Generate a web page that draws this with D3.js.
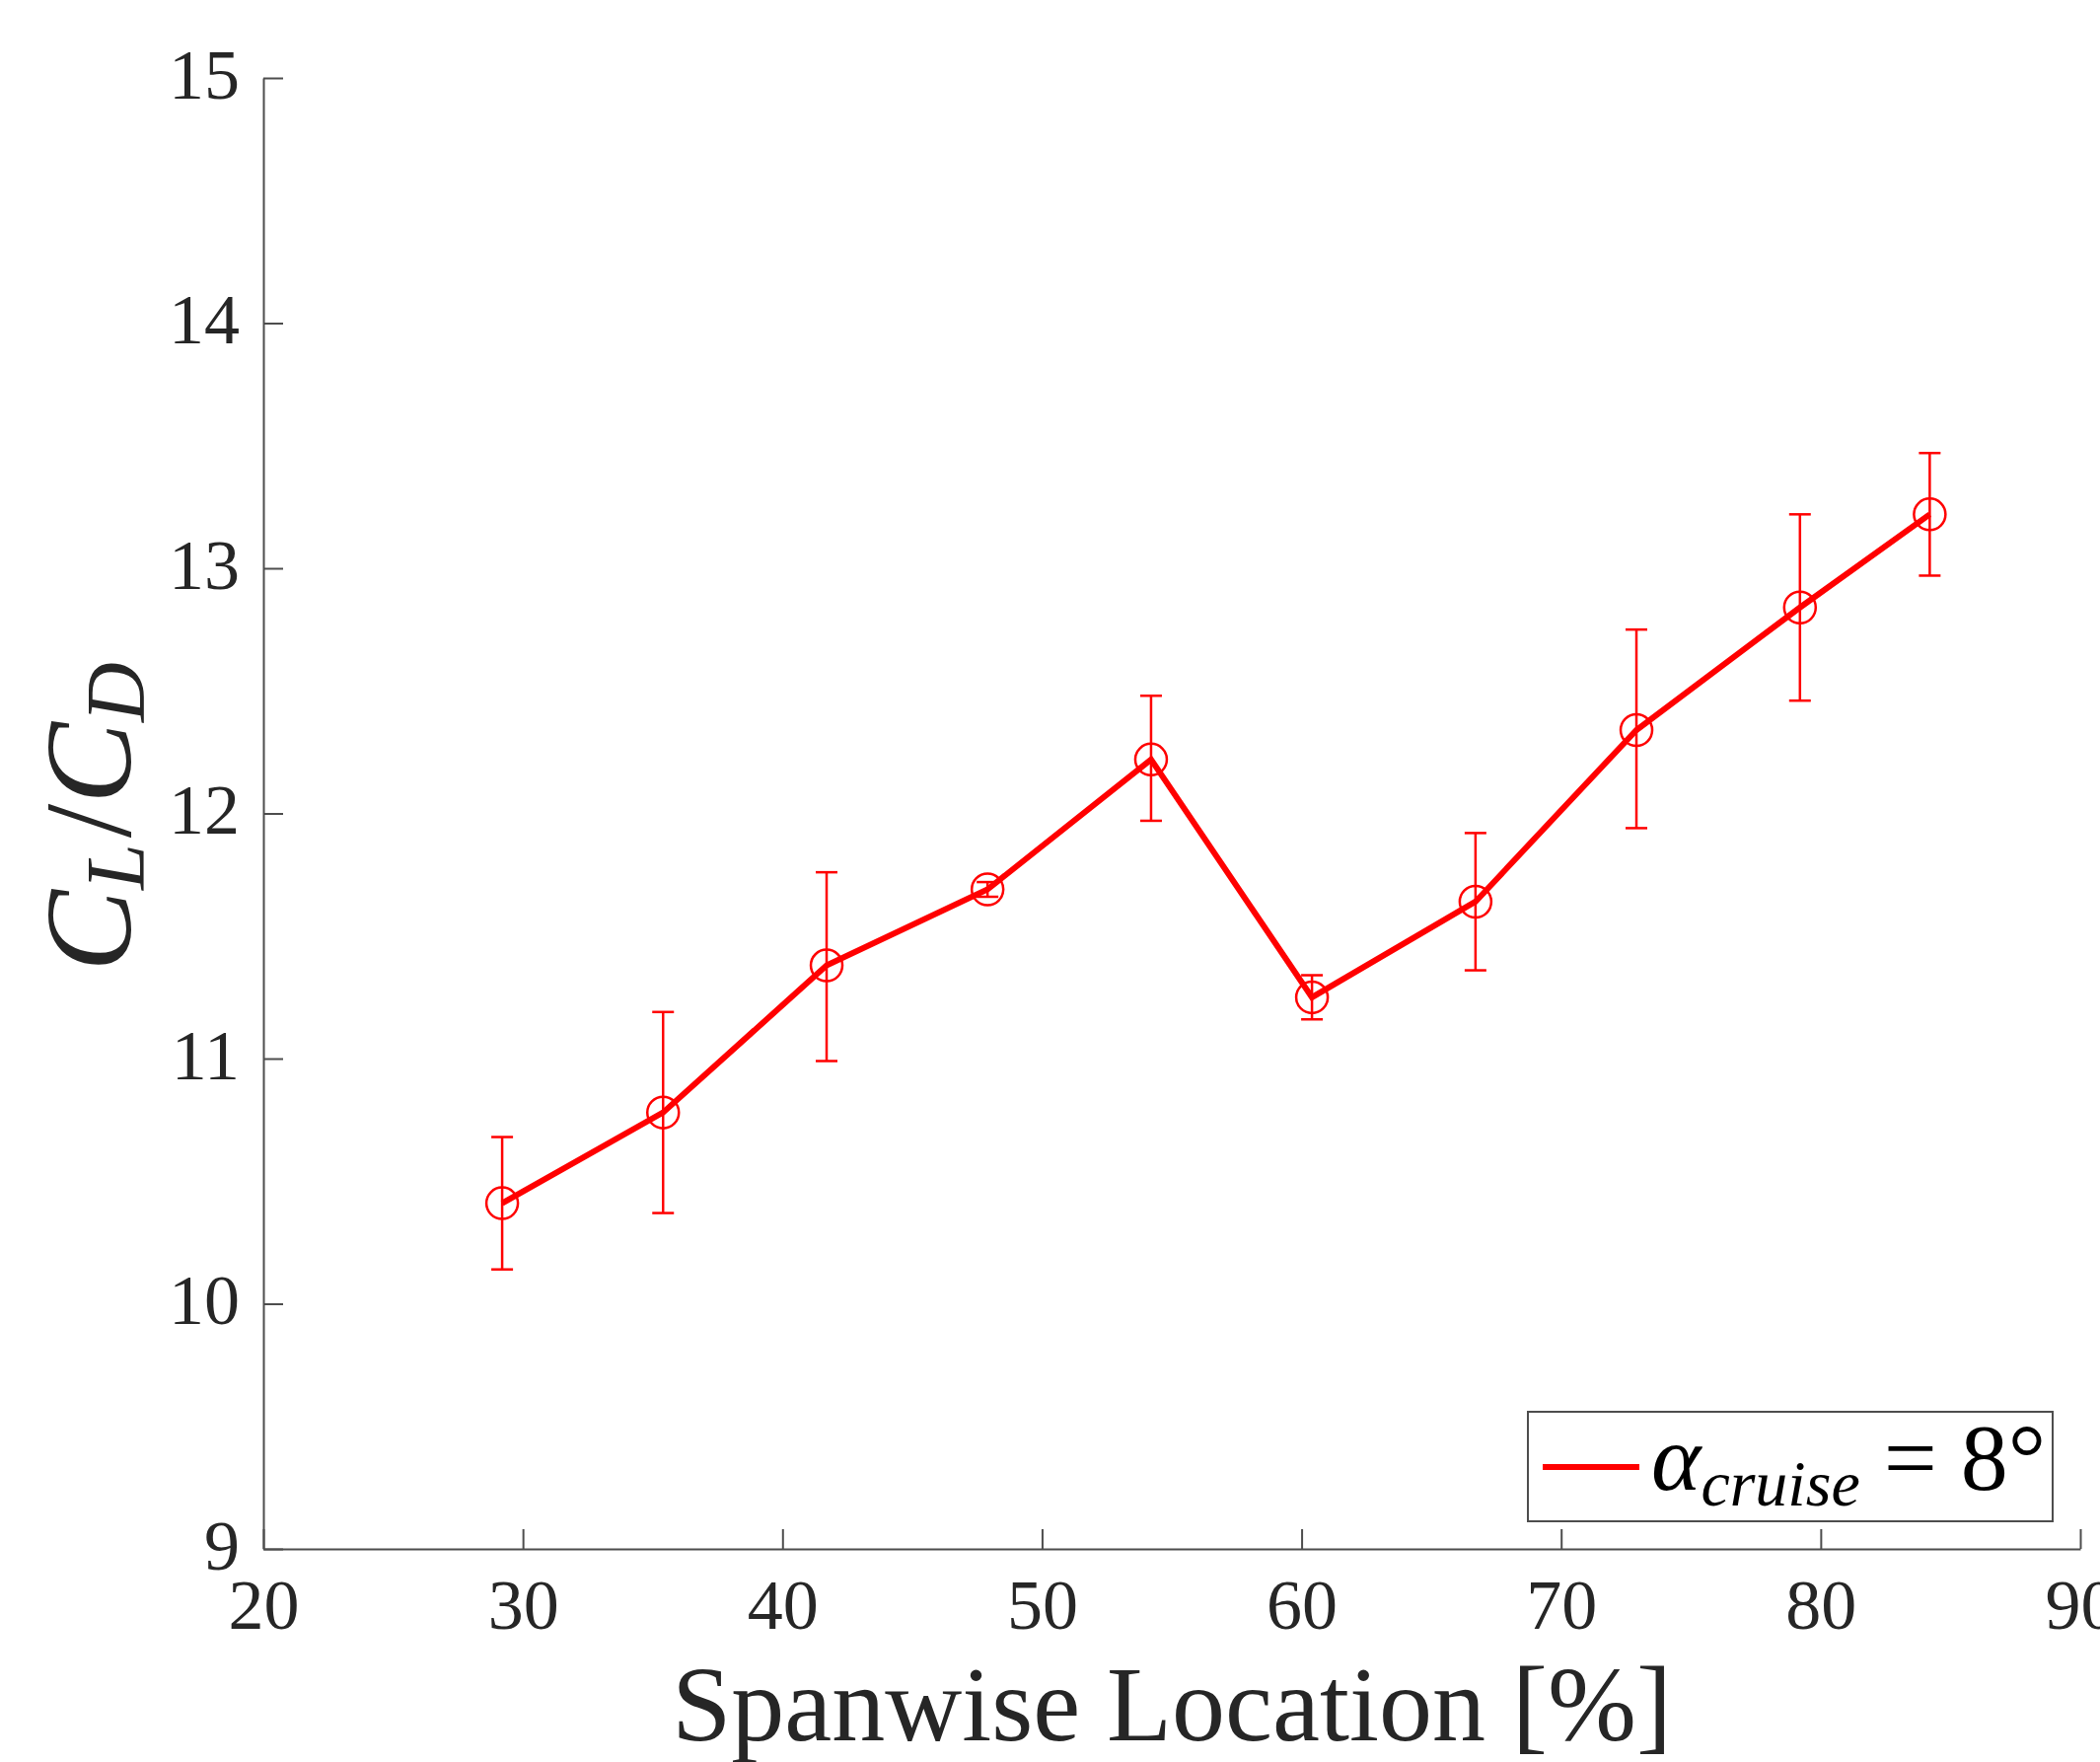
<!DOCTYPE html>
<html>
<head>
<meta charset="utf-8">
<script src="https://d3js.org/d3.v7.min.js"></script>
<style>
  body { margin: 0; background: #fff; }
  svg { display: block; }
  .axis text { font-family: "Liberation Serif", "DejaVu Serif", serif; fill: #262626; }
</style>
</head>
<body>
<div id="chart"></div>
<script>
// spanwise stations [%] and lift-to-drag ratio with error bar ends
var spanLoc = [29.2, 35.4, 41.7, 47.9, 54.2, 60.4, 66.7, 72.9, 79.2, 84.2];
var clcd    = [10.41, 10.78, 11.38, 11.69, 12.22, 11.25, 11.64, 12.34, 12.84, 13.22];
var upper   = [10.68, 11.19, 11.76, 11.72, 12.48, 11.34, 11.92, 12.75, 13.22, 13.47];
var lower   = [10.14, 10.37, 10.99, 11.66, 11.97, 11.16, 11.36, 11.94, 12.46, 12.97];
var xTicks = [20, 30, 40, 50, 60, 70, 80, 90];
var yTicks = [9, 10, 11, 12, 13, 14, 15];

var W = 2129, H = 1786
  , plotL = 267, plotR = 2109, plotT = 79, plotB = 1570
  , red = '#ff0000', axisCol = '#4d4d4d'
  , serif = '"Liberation Serif", "DejaVu Serif", serif'

var data = spanLoc.map(function(s, i){
  return { x: s, y: clcd[i], hi: upper[i], lo: lower[i] };
});

var svg = d3.select('#chart').append('svg')
  .attr('width', W)
  .attr('height', H);

var x = d3.scaleLinear().domain([20, 90]).range([plotL, plotR]);
var y = d3.scaleLinear().domain([9, 15]).range([plotB, plotT]);

// axes, ticks pointing inward like matlab
var gx = svg.append('g').attr('class', 'axis')
  .attr('transform', 'translate(0,' + plotB + ')')
  .call(d3.axisBottom(x).tickValues(xTicks).tickFormat(d3.format('d'))
    .tickSizeInner(-20).tickSizeOuter(0).tickPadding(30));
var gy = svg.append('g').attr('class', 'axis')
  .attr('transform', 'translate(' + plotL + ',0)')
  .call(d3.axisLeft(y).tickValues(yTicks).tickFormat(d3.format('d'))
    .tickSizeInner(-20).tickSizeOuter(0).tickPadding(24));

svg.selectAll('.axis path, .axis line')
  .attr('stroke', axisCol)
  .attr('stroke-width', 2);
svg.selectAll('.axis text')
  .attr('font-size', 72);
gy.selectAll('text').attr('dy', '0.28em');
gx.selectAll('text').attr('dy', '0.71em');

// axis titles
svg.append('text')
  .attr('x', (plotL + plotR) / 2)
  .attr('y', 1764)
  .attr('text-anchor', 'middle')
  .style('font-family', serif)
  .style('font-size', '108px')
  .attr('fill', '#262626')
  .text('Spanwise Location [%]');

var yl = svg.append('text')
  .attr('transform', 'translate(132,828) rotate(-90)')
  .attr('text-anchor', 'middle')
  .style('font-family', serif)
  .style('font-size', '124px')
  .attr('fill', '#262626');
yl.append('tspan').style('font-style', 'italic').text('C');
yl.append('tspan').style('font-style', 'italic').style('font-size', '84px').attr('dy', 14).text('L');
yl.append('tspan').attr('dy', -14).attr('dx', 6).text('/');
yl.append('tspan').style('font-style', 'italic').text('C');
yl.append('tspan').style('font-style', 'italic').style('font-size', '84px').attr('dy', 14).text('D');

// error bars
var eb = svg.append('g').attr('stroke', red).attr('stroke-width', 2.5).attr('fill', 'none');
eb.selectAll('.stem').data(data).enter().append('line')
  .attr('x1', function(d){ return x(d.x); })
  .attr('x2', function(d){ return x(d.x); })
  .attr('y1', function(d){ return y(d.hi); })
  .attr('y2', function(d){ return y(d.lo); });
eb.selectAll('.capHi').data(data).enter().append('line')
  .attr('x1', function(d){ return x(d.x) - 11; })
  .attr('x2', function(d){ return x(d.x) + 11; })
  .attr('y1', function(d){ return y(d.hi); })
  .attr('y2', function(d){ return y(d.hi); });
eb.selectAll('.capLo').data(data).enter().append('line')
  .attr('x1', function(d){ return x(d.x) - 11; })
  .attr('x2', function(d){ return x(d.x) + 11; })
  .attr('y1', function(d){ return y(d.lo); })
  .attr('y2', function(d){ return y(d.lo); });

// main line
var line = d3.line()
  .x(function(d){ return x(d.x); })
  .y(function(d){ return y(d.y); });
svg.append('path')
  .datum(data)
  .attr('d', line)
  .attr('fill', 'none')
  .attr('stroke', red)
  .attr('stroke-width', 6)
  .attr('stroke-linejoin', 'miter');

// open circle markers
svg.selectAll('.mark').data(data).enter().append('circle')
  .attr('cx', function(d){ return x(d.x); })
  .attr('cy', function(d){ return y(d.y); })
  .attr('r', 16)
  .attr('fill', 'none')
  .attr('stroke', red)
  .attr('stroke-width', 2.5);

// legend
var lg = svg.append('g');
lg.append('rect')
  .attr('x', 1549).attr('y', 1431)
  .attr('width', 532).attr('height', 111)
  .attr('fill', '#fff')
  .attr('stroke', axisCol)
  .attr('stroke-width', 2);
lg.append('line')
  .attr('x1', 1564).attr('x2', 1662)
  .attr('y1', 1487).attr('y2', 1487)
  .attr('stroke', red)
  .attr('stroke-width', 6);
var lt = lg.append('text')
  .attr('x', 1674).attr('y', 1510)
  .style('font-family', serif)
  .style('font-size', '96px')
  .attr('fill', '#000');
lt.append('tspan').style('font-style', 'italic').text('α');
lt.append('tspan').style('font-style', 'italic').style('font-size', '66px').attr('dy', 16).text('cruise');
lt.append('tspan').attr('dy', -16).text(' = 8°');
</script>
</body>
</html>
